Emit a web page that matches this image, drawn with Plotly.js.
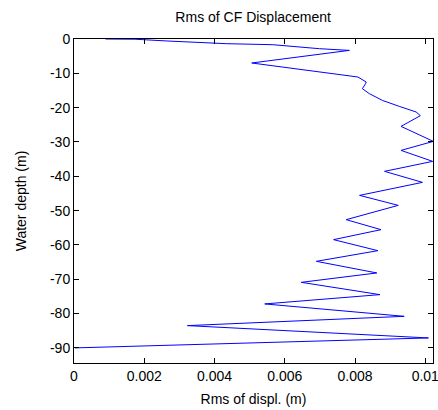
<!DOCTYPE html>
<html>
<head>
<meta charset="utf-8">
<script src="https://cdn.plot.ly/plotly-3.0.1.min.js"></script>
<style>html,body{margin:0;padding:0;background:#fff;}#chart{width:438px;height:410px;}</style>
</head>
<body>
<div id="chart"></div>
<script>
// Rms of CF displacement (m) vs water depth (m)
const rmsDispl = [0.000894, 0.00174, 0.00265, 0.00435, 0.00566, 0.00699, 0.00784,
  0.00506, 0.00808, 0.00832, 0.00830, 0.00821, 0.00841, 0.00878, 0.00926,
  0.00974, 0.00986, 0.00931, 0.01023, 0.00931, 0.01021, 0.00884, 0.00992, 0.00813, 0.00923,
  0.00775, 0.00874, 0.00739, 0.00865, 0.00690, 0.00862, 0.00647, 0.00871, 0.00543, 0.00940,
  0.00323, 0.01009, 0.00002];
const waterDepth = [0, -0.06, -0.58, -1.37, -1.66, -2.83, -3.32,
  -6.99, -11.07, -12.53, -13.02, -14.48, -15.93, -17.89, -19.63,
  -21.26, -22.34, -25.46, -29.83, -32.45, -35.65, -38.56, -41.77, -45.56, -48.47,
  -52.64, -55.55, -58.46, -61.67, -64.78, -68.16, -70.9, -74.48, -77.19, -80.8,
  -83.51, -87.1, -90.0];
const xTickVals = [0, 0.002, 0.004, 0.006, 0.008, 0.01];
const xTickText = ['0', '0.002', '0.004', '0.006', '0.008', '0.01'];
const yTickVals = [0, -10, -20, -30, -40, -50, -60, -70, -80, -90];
const yTickText = ['0', '-10', '-20', '-30', '-40', '-50', '-60', '-70', '-80', '-90'];

const font = {family: '"Liberation Sans", Arial, Helvetica, sans-serif', size: 14, color: '#000'};
const axisCommon = {
  showline: true, mirror: 'ticks', linecolor: '#000', linewidth: 1,
  ticks: 'inside', ticklen: 5, tickcolor: '#000', tickwidth: 1,
  showgrid: false, zeroline: false, tickfont: font, tickmode: 'array',
  ticklabeloverflow: 'allow'
};
const trace = {
  x: rmsDispl, y: waterDepth, type: 'scatter', mode: 'lines',
  line: {color: '#0000ff', width: 1}, hoverinfo: 'none'
};
const layout = {
  width: 438, height: 410,
  margin: {l: 74, r: 5, t: 39, b: 47},
  paper_bgcolor: '#fff', plot_bgcolor: '#fff',
  showlegend: false, font: font,
  title: {text: 'Rms of CF Displacement', font: font, x: 0.578, xanchor: 'center', y: 0.958, yanchor: 'middle'},
  xaxis: Object.assign({}, axisCommon, {
    range: [0, 0.01022], tickvals: xTickVals, ticktext: xTickText,
    title: {text: 'Rms of displ. (m)', font: font, standoff: 11}
  }),
  yaxis: Object.assign({}, axisCommon, {
    range: [-94.4, 0], tickvals: yTickVals, ticktext: yTickText,
    title: {text: 'Water depth (m)', font: font, standoff: 20}
  })
};
Plotly.newPlot('chart', [trace], layout, {displayModeBar: false, staticPlot: true});
</script>
</body>
</html>
